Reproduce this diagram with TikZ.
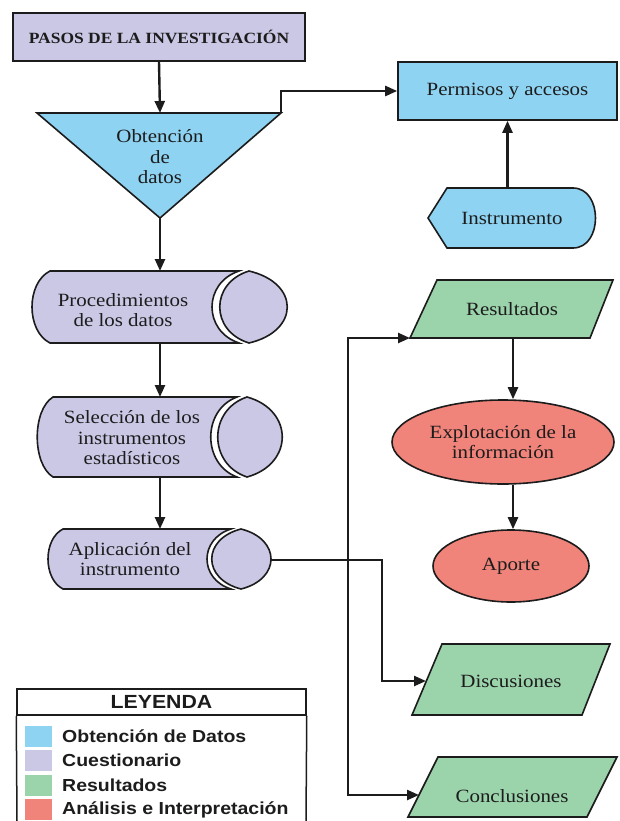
\documentclass[tikz,border=0pt]{standalone}
\usepackage{fontspec}
\setmainfont[FakeStretch=1.12]{Liberation Serif}
\newfontfamily\legfont[FakeStretch=1.12]{Liberation Sans}
\usetikzlibrary{arrows.meta,shapes.geometric}
\definecolor{cblue}{HTML}{8ED3F2}
\definecolor{clav}{HTML}{CBC8E6}
\definecolor{cgreen}{HTML}{9BD3AB}
\definecolor{cred}{HTML}{F0837A}
\definecolor{cink}{HTML}{1C1C1C}
\begin{document}
\begin{tikzpicture}[x=1pt,y=-1pt,
  shapeline/.style={draw=cink,line width=1.6pt,line join=miter},
  conn/.style={draw=cink,line width=2.4pt,-{Triangle[length=12pt,width=10pt]}},
  txt/.style={font=\fontsize{18.7}{20.5}\selectfont,align=center,text=cink,inner sep=0pt},
  legtxt/.style={font=\legfont\bfseries\fontsize{17.4}{20}\selectfont,anchor=west,inner sep=0pt,text=cink},
  swatch/.style={minimum width=27pt,minimum height=21pt,inner sep=0pt}]
\useasboundingbox (0,0) rectangle (619,821);
\fill[white] (0,0) rectangle (619,821);

% title
\node[shapeline,fill=clav,minimum width=292pt,minimum height=48pt,inner sep=0pt,text=cink,
      font=\bfseries\fontsize{15.6}{18}\selectfont] (title) at (159,37) {PASOS DE LA INVESTIGACIÓN};

% triangle
\path[shapeline,fill=cblue] (37,113) -- (281,113) -- (160,218) -- cycle;
\node[txt] (obt) at (160,157) {Obtención\\de\\datos};
\coordinate (obt-top) at (160,113);
\coordinate (obt-apex) at (160,218);
\coordinate (obt-right) at (281,113);

% permisos
\node[shapeline,fill=cblue,minimum width=219pt,minimum height=58pt,txt] (perm) at (507.5,91) {Permisos y accesos};

% instrumento
\path[shapeline,fill=cblue] (428,218) -- (447,188) -- (573,188)
   .. controls (603,188) and (603,248) .. (573,248) -- (447,248) -- cycle;
\node[txt] (instr) at (512,218) {Instrumento};
\coordinate (instr-top) at (507.5,188);

% stored data 1
\path[shapeline,fill=clav] (50,271) -- (239,271) .. controls (203,283) and (203,331) .. (239,343)
   -- (50,343) .. controls (26,331) and (26,283) .. cycle;
\path[shapeline,fill=clav] (249,271) .. controls (210,283) and (210,331) .. (249,343)
   .. controls (300,331) and (300,283) .. cycle;
\node[txt] (proc) at (123,310) {Procedimientos\\de los datos};
\coordinate (proc-n) at (160,271);
\coordinate (proc-s) at (160,343);

% stored data 2
\path[shapeline,fill=clav] (53,397) -- (237,397) .. controls (202,410) and (202,464) .. (237,477)
   -- (53,477) .. controls (32,464) and (32,410) .. cycle;
\path[shapeline,fill=clav] (247,397) .. controls (208,410) and (208,464) .. (247,477)
   .. controls (294,464) and (294,410) .. cycle;
\node[txt] (sel) at (132,438) {Selección de los\\instrumentos\\estadísticos};
\coordinate (sel-n) at (160,397);
\coordinate (sel-s) at (160,477);

% stored data 3
\path[shapeline,fill=clav] (63,529) -- (231,529) .. controls (199,539) and (199,579) .. (231,589)
   -- (63,589) .. controls (43,579) and (43,539) .. cycle;
\path[shapeline,fill=clav] (241,529) .. controls (202,539) and (202,579) .. (241,589)
   .. controls (281,579) and (281,539) .. cycle;
\node[txt] (apl) at (130,559) {Aplicación del\\instrumento};
\coordinate (apl-n) at (160,529);
\coordinate (apl-e) at (271,560);

% resultados
\path[shapeline,fill=cgreen] (437,280) -- (613,280) -- (590,338) -- (410,338) -- cycle;
\node[txt] (res) at (512,309) {Resultados};
\coordinate (res-bl) at (410,338);
\coordinate (res-b) at (513,338);

% explotacion
\node[ellipse,shapeline,fill=cred,minimum width=222pt,minimum height=84pt,txt] (expl) at (503,442) {Explotación de la\\información};

% aporte
\node[ellipse,shapeline,fill=cred,minimum width=156pt,minimum height=72pt,txt] (apo) at (511,566) {Aporte};

% discusiones
\path[shapeline,fill=cgreen] (442,644) -- (610,644) -- (582,715) -- (412,715) -- cycle;
\node[txt] (disc) at (511,681) {Discusiones};
\coordinate (disc-in) at (426,681);

% conclusiones
\path[shapeline,fill=cgreen] (438,757) -- (617,757) -- (587,817) -- (408,817) -- cycle;
\node[txt] (conc) at (512,796) {Conclusiones};
\coordinate (conc-in) at (419,795);

% connectors
\draw[conn] (title.south) -- (obt-top);
\draw[conn] (obt-right) |- (perm.west);
\draw[conn] (instr-top) -- (perm.south);
\draw[conn] (obt-apex) -- (proc-n);
\draw[conn] (proc-s) -- (sel-n);
\draw[conn] (sel-s) -- (apl-n);
\draw[conn] (res-b) -- (res-b |- expl.north);
\draw[conn] (res-b |- expl.south) -- (res-b |- apo.north);
\coordinate (dturn) at (382,560);
\coordinate (j) at (348,560);
\draw[conn] (apl-e) -- (dturn) |- (disc-in);
\draw[conn] (j) |- (res-bl);
\draw[conn] (j) |- (conc-in);

% legend
\node[draw=cink,line width=1.5pt,minimum width=289pt,minimum height=26pt,inner sep=0pt,text=cink,
      font=\legfont\bfseries\fontsize{19}{22}\selectfont] (ley) at (161.5,702) {LEYENDA};
\draw[cink,line width=1.5pt] (ley.south west) -- (17,821);
\draw[cink,line width=1.5pt] (ley.south east) -- (306,821);
\node[swatch,fill=cblue] (sw1) at (38.5,736) {};
\node[swatch,fill=clav] (sw2) at (38.5,760.5) {};
\node[swatch,fill=cgreen] (sw3) at (38.5,785) {};
\node[swatch,fill=cred] (sw4) at (38.5,809.5) {};
\node[legtxt] (l1) at (62,736) {Obtención de Datos};
\node[legtxt] (l2) at (62,760.5) {Cuestionario};
\node[legtxt] (l3) at (62,785) {Resultados};
\node[legtxt] (l4) at (62,809.5) {Análisis e Interpretación};
\end{tikzpicture}
\end{document}
